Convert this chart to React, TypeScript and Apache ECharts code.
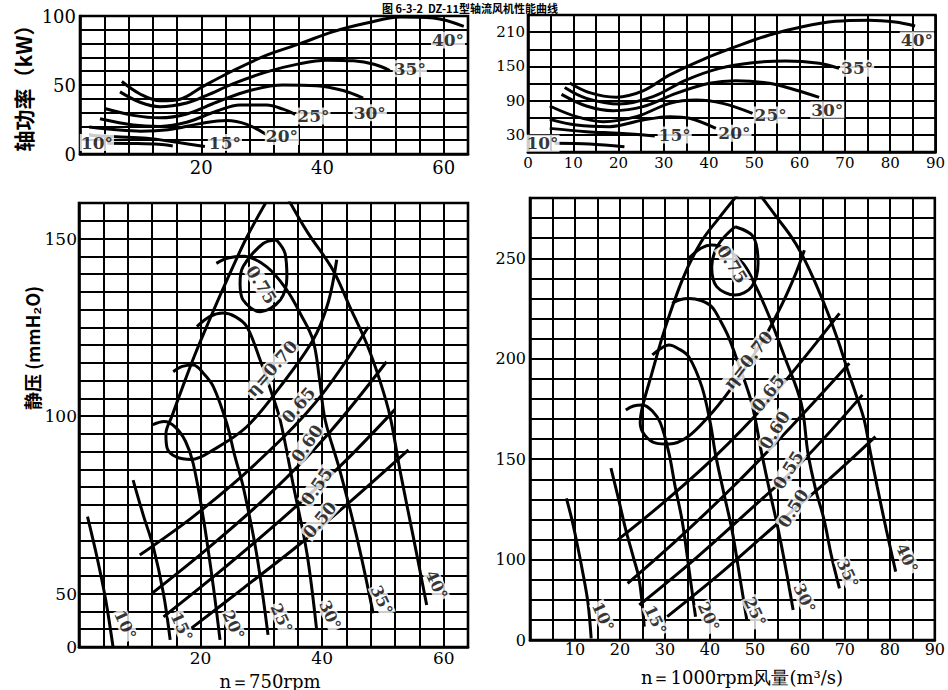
import React, { useEffect, useRef } from 'react';
import * as echarts from 'echarts';

const SERIF = '"DejaVu Serif", "Liberation Serif", serif';
const CJK = '"Noto Sans CJK SC", sans-serif';

// ---------- top-left: shaft power (kW), n = 750 rpm ----------
const tlX = [20, 40, 60];
const tlY = [0, 50, 100];
const tl40 = [[6.9,52.5],[9.9,43.5],[13.2,38.5],[16.5,39.7],[20.3,49],[25.3,60.5],[30.8,71.6],[36.3,80],[41.8,88.7],[47.3,94.9],[52.8,99.3],[58.3,98.5],[63.3,92.5]];
const tl35 = [[6.6,45],[9.9,37.5],[13.2,34.3],[17.6,37],[20.9,42.5],[25.3,51],[30.8,59.5],[36.3,65.5],[40.7,68],[45.1,67.5],[48.5,65],[51.1,60.5]];
const tl30 = [[4.1,33],[8.8,28],[13.2,26.2],[17.6,29],[22.5,37.5],[28,46],[33.5,50],[39,49.5],[43.4,46],[46.7,40.5]];
const tl25 = [[3.3,25.5],[8.8,21],[13.2,20],[17.6,23],[22.5,31],[26.4,35.5],[30.8,35.5],[33.5,32.5],[35.5,28.7]];
const tl20 = [[1.5,19.5],[6,17.5],[10,16.5],[14.5,17.5],[19.8,22],[24.2,24.3],[27.5,21.5],[30.8,14]];
const tl15 = [[1.5,13.5],[6,12.5],[11,11.5],[16,8.5],[20.6,5.4]];
const tl10 = [[4.5,7.8],[9,7.6],[13,7],[15.3,5.8]];
const tlLabels = [['40°',60.7,82.6],['35°',54.4,61.8],['30°',47.8,29.9],['25°',38.5,27.5],['20°',33.3,12.7],['15°',23.9,8.3],['10°',2.8,8.3]];

// ---------- top-right: shaft power (kW), n = 1000 rpm ----------
const trX = [0, 10, 20, 30, 40, 50, 60, 70, 80, 90];
const trY = [30, 90, 150, 210];
const tr40 = [[9.2,121],[13.6,104],[19.5,96],[25.4,107],[31.3,135],[38.6,162],[45.9,184.5],[53.3,205],[60.6,219.5],[67.9,229],[75.3,231],[81.1,227.7],[85.5,220.7]];
const tr35 = [[8.1,113],[12.9,94],[20.2,84],[27.6,97],[34.9,126],[42.3,146.5],[49.6,156.4],[56.9,159.4],[64.3,155.3],[68.7,146.5]];
const tr30 = [[7.4,101],[12.9,80.6],[18.8,72.4],[25.4,79.4],[32.7,102.7],[40.1,120.3],[45.9,124.9],[53.3,120.3],[59.1,108.6],[64.3,95.7]];
const tr25 = [[4.8,80.6],[10.7,61.9],[16.6,53.1],[23.9,61.9],[31.3,85.2],[37.1,91.1],[43,85.2],[49.6,67.7]];
const tr20 = [[4.8,57.2],[10.7,47.3],[18,44.4],[25.4,56],[31.3,61.9],[35.7,59],[41.5,41.4]];
const tr15 = [[4.8,41.4],[12.9,35.6],[20.2,32.7],[28,28]];
const tr10 = [[5.9,15.2],[13.6,14],[21.3,9.3]];
const trLabels = [['40°',85.9,196],['35°',72.7,146.5],['30°',66.1,73.6],['25°',53.6,64.8],['20°',45.6,32.7],['15°',32.4,29.8],['10°',3.2,15.2]];

// ---------- bottom-left: static pressure, n = 750 rpm ----------
const blX = [20, 40, 60];
const blY = [50, 100, 150];
const bl10 = [[1.4,71.7],[3,60],[4.4,48.2],[5.6,35]];
const bl15 = [[8.9,82],[10.6,72],[12.2,63.3],[13.9,50],[15,37]];
const bl20 = [[12,97.5],[14,98.5],[15.8,97],[17.5,93],[18.8,86.6],[20.5,70.8],[22.1,52],[23.2,37]];
const bl25 = [[15.5,112.5],[17,114],[18.8,114.4],[20.5,112],[22.1,108.3],[24.3,98],[25.6,89],[27,80.2],[29.2,61.4],[31.1,38.4]];
const bl30 = [[19.4,125.2],[21.5,128],[23.7,129],[25.7,128],[27.6,125.2],[29.8,115.8],[31.6,107],[33.1,98.9],[35.3,80.2],[37.5,61.4],[39.1,39.8]];
const bl35 = [[22.6,143],[24.5,144.5],[27,145],[30.9,142],[34.2,135.5],[36.4,128.9],[38.5,121.4],[39.6,110],[40.5,98.9],[42.9,84.8],[45.7,66],[48.4,44.5]];
const bl40 = [[33.8,163],[37.5,152],[41.8,141.1],[44.5,131],[47.3,120.5],[49.5,110],[51.2,99.8],[52.8,84.8],[55,66],[57.2,46.8]];
const bl70 = [[30.7,160],[27.5,150],[24,137],[21.2,126],[19,117],[17,108],[15.3,100],[14.3,95],[14.5,91],[16,88.5],[18.5,87.8],[22.1,90.5],[27.6,97],[33.1,108.3],[38.5,121.4],[41,132],[42.4,144]];
const bl75 = [[32.5,149.6],[33.9,145.8],[34.2,139.2],[33.1,132.7],[29.8,129.4],[27,132.7],[26.5,137.4],[27,142.1],[30.3,148.6],[32.5,149.6]];
const bl65 = [[10,60.9],[19,72],[29,86.5],[39,104],[47.6,125.1]];
const bl60 = [[12,50.1],[21,62.5],[31,77.5],[41,95],[50.6,115.3]];
const bl55 = [[13.9,43.5],[23,56],[33,70.5],[43,86],[52,101.9]];
const bl50 = [[18.5,40.3],[27,51.5],[36,63.5],[45,76.5],[54.2,90.5]];
const blAngleLabels = [['10°',7.6,41.2],['15°',16.9,40.7],['20°',25.4,41.2],['25°',33.3,43.1],['30°',41.3,44],['35°',49.8,48.2],['40°',58.8,52.5]];
const blEtaLabels = [['η=0.70',31.7,113.4,49],['0.65',36.1,103.1,50],['0.60',37.5,92.3,55],['0.55',39.1,80.2,55],['0.50',39.6,70.8,50],['0.75',30,137,-58]];

// ---------- bottom-right: static pressure, n = 1000 rpm ----------
const brX = [10, 20, 30, 40, 50, 60, 70, 80, 90];
const brY = [100, 150, 200, 250];
const br10 = [[8.1,130.5],[9.2,121],[10.3,109.8],[11.7,94],[12.9,78.3],[13.6,60.8]];
const br15 = [[18,145.5],[19.7,130],[21.3,114.8],[23,101],[24.3,89.9],[25.4,66.6]];
const br20 = [[21.3,174.5],[23,176.5],[25,177],[27.2,174],[29,168],[30.9,152.9],[32.3,136],[33.8,119.7],[35.3,96],[36.8,71.6]];
const br25 = [[27.2,201.9],[29,205],[30.9,206.8],[33,205],[35.3,201],[38.2,186.1],[40.1,167.9],[41.2,152.9],[43,134],[44.9,114.8],[46.6,92],[48.2,70]];
const br30 = [[31.6,227.6],[33.5,229.5],[35.3,230],[38,229],[40.4,225.9],[42.3,219],[44.1,211],[46.3,197.7],[49.3,177.8],[51.5,152.9],[53.3,134],[55.2,114.8],[57,94],[58.5,74.9]];
const br35 = [[35.3,250],[38,255],[40.4,256.6],[44,254],[47.5,247],[50,237],[53,222],[56.6,201],[60.3,177.8],[61.8,152.9],[63.5,135],[65.4,119.7],[67,102],[68.8,85.7]];
const br40 = [[51,282],[55,270],[58,261],[60.3,252.5],[63,240],[66,224],[68.5,209],[70.6,194.4],[72.5,182],[74.3,169.5],[75.7,153],[77.2,136.3],[79.2,115],[81.3,94]];
const br70 = [[46.3,282],[42,270],[38,258],[34,240],[30,215],[27,192],[25,176],[24.5,168],[25.5,162],[28,158],[31,157.5],[35,161],[39.7,171.2],[44,183],[48,196],[52,210],[56,227],[59,242],[61,254]];
const br75 = [[45.6,265.7],[49.6,260.8],[50.7,247.5],[49.3,235.9],[45.6,231.7],[41.5,235.9],[40.4,245.8],[41.9,256.8],[45.6,265.7]];
const br65 = [[19.5,109.8],[30,129],[41,151],[53,179],[68.8,222.6]];
const br60 = [[21.7,88.2],[33,110.5],[45,136],[58,166],[71,197.7]];
const br55 = [[24.3,77.4],[36,99],[48,123],[61,150],[73.9,182]];
const br50 = [[30.5,71.6],[42,92.5],[54,116],[66,139],[76.8,161.2]];
const brAngleLabels = [['10°',16.2,71.6],['15°',27.9,70],['20°',39.7,71.6],['25°',50,74.1],['30°',61,80.8],['35°',70.6,93.2],['40°',83.8,100.7]];
const brEtaLabels = [['η=0.70',48.5,199.4,52],['0.65',52.9,182.8,52],['0.60',54.4,164.5,58],['0.55',57.4,144.6,58],['0.50',58.5,125.5,58],['0.75',45,247,-58]];

const TITLE = '图 6-3-2  DZ-11型轴流风机性能曲线';

function line(data: number[][], gi: number, width = 3) {
  return {
    type: 'line', xAxisIndex: gi, yAxisIndex: gi, data, smooth: 0.35,
    showSymbol: false, symbol: 'none', clip: true, z: 3,
    lineStyle: { color: '#000', width },
  };
}

function labels(items: any[], gi: number, fontSize: number, defRot = 0) {
  return {
    type: 'scatter', xAxisIndex: gi, yAxisIndex: gi, z: 6, symbolSize: 1,
    itemStyle: { color: 'rgba(0,0,0,0)' },
    data: items.map((it) => ({
      name: it[0], value: [it[1], it[2]],
      label: { rotate: it.length > 3 ? it[3] : defRot },
    })),
    label: {
      show: true, position: 'inside', formatter: '{b}', color: '#000',
      fontFamily: SERIF, fontWeight: 'bold', fontSize, backgroundColor: '#fff', padding: [0, 1],
    },
  };
}

function xAxis(gi: number, min: number, max: number, interval: number, shown: number[], fontSize: number, margin: number) {
  return {
    type: 'value', gridIndex: gi, min, max, interval,
    axisLine: { show: true, lineStyle: { color: '#000', width: 2.6 } },
    axisTick: { show: false },
    splitLine: { show: true, lineStyle: { color: '#000', width: 2 } },
    axisLabel: {
      color: '#000', fontFamily: SERIF, fontSize, margin,
      formatter: (v: number) => (shown.includes(v) ? String(v) : ''),
    },
  };
}

function yAxis(gi: number, min: number, max: number, interval: number, shown: number[], fontSize: number, margin: number, zeroAt?: number) {
  return {
    type: 'value', gridIndex: gi, min, max, interval,
    axisLine: { show: true, lineStyle: { color: '#000', width: 2.6 } },
    axisTick: { show: false },
    splitLine: { show: true, lineStyle: { color: '#000', width: 2 } },
    axisLabel: {
      color: '#000', fontFamily: SERIF, fontSize, margin,
      formatter: (v: number) => (zeroAt !== undefined && v === zeroAt ? '0' : shown.includes(v) ? String(v) : ''),
    },
  };
}

export default function App() {
  const ref = useRef<HTMLDivElement>(null);
  useEffect(() => {
    if (!ref.current) return;
    const chart = echarts.init(ref.current, null, { renderer: 'svg' });
    const gridStyle = { show: true, borderColor: '#000', borderWidth: 2.6, backgroundColor: '#fff' };
    chart.setOption({
      animation: false,
      backgroundColor: '#fff',
      grid: [
        { left: 80, top: 16, width: 388, height: 138, ...gridStyle },
        { left: 528, top: 15, width: 409, height: 137, ...gridStyle },
        { left: 79, top: 203, width: 389, height: 444, ...gridStyle },
        { left: 530, top: 198, width: 408, height: 442, ...gridStyle },
      ],
      xAxis: [
        xAxis(0, 0, 64, 4, tlX, 18, 4),
        xAxis(1, 0, 90, 5, trX, 15, 3),
        xAxis(2, 0, 64, 4, blX, 17, 2),
        xAxis(3, 0, 90, 5, brX, 16, 1),
      ],
      yAxis: [
        yAxis(0, 0, 100, 10, tlY, 18, 4),
        yAxis(1, 0, 240, 30, trY, 15, 3),
        yAxis(2, 35, 160, 5, blY, 17, 2, 35),
        yAxis(3, 60, 280, 10, brY, 16, 4, 60),
      ],
      series: [
        line(tl40, 0), line(tl35, 0), line(tl30, 0), line(tl25, 0), line(tl20, 0), line(tl15, 0), line(tl10, 0),
        labels(tlLabels, 0, 17),
        line(tr40, 1), line(tr35, 1), line(tr30, 1), line(tr25, 1), line(tr20, 1), line(tr15, 1), line(tr10, 1),
        labels(trLabels, 1, 17),
        line(bl10, 2), line(bl15, 2), line(bl20, 2), line(bl25, 2), line(bl30, 2), line(bl35, 2), line(bl40, 2),
        line(bl70, 2), line(bl75, 2), line(bl65, 2), line(bl60, 2), line(bl55, 2), line(bl50, 2),
        labels(blAngleLabels, 2, 16, -65), labels(blEtaLabels, 2, 17),
        line(br10, 3), line(br15, 3), line(br20, 3), line(br25, 3), line(br30, 3), line(br35, 3), line(br40, 3),
        line(br70, 3), line(br75, 3), line(br65, 3), line(br60, 3), line(br55, 3), line(br50, 3),
        labels(brAngleLabels, 3, 16, -65), labels(brEtaLabels, 3, 17),
      ],
      graphic: [
        { type: 'text', x: 470, y: 8, z: 10, style: { text: TITLE, font: `bold 11px ${CJK}`, fill: '#000', align: 'center', verticalAlign: 'middle', backgroundColor: '#fff' } },
        { type: 'text', x: 23, y: 83, rotation: Math.PI / 2, originX: 0, originY: 0,
          style: { text: '轴功率（kW）', font: `bold 21px ${CJK}`, fill: '#000', align: 'center', verticalAlign: 'middle' } },
        { type: 'text', x: 32, y: 348, rotation: Math.PI / 2, originX: 0, originY: 0,
          style: { text: '静压 (mmH₂O)', font: `bold 18px ${CJK}`, fill: '#000', align: 'center', verticalAlign: 'middle' } },
        { type: 'text', x: 270, y: 681, style: { text: 'n＝750rpm', font: `18px ${SERIF}`, fill: '#000', align: 'center', verticalAlign: 'middle' } },
        { type: 'text', x: 742, y: 677, style: { text: 'n＝1000rpm风量(m³/s)', font: `18px ${SERIF}`, fill: '#000', align: 'center', verticalAlign: 'middle' } },
      ],
    });
    return () => chart.dispose();
  }, []);
  return <div ref={ref} style={{ position: 'fixed', left: 0, top: 0, width: 948, height: 690, background: '#fff' }} />;
}
